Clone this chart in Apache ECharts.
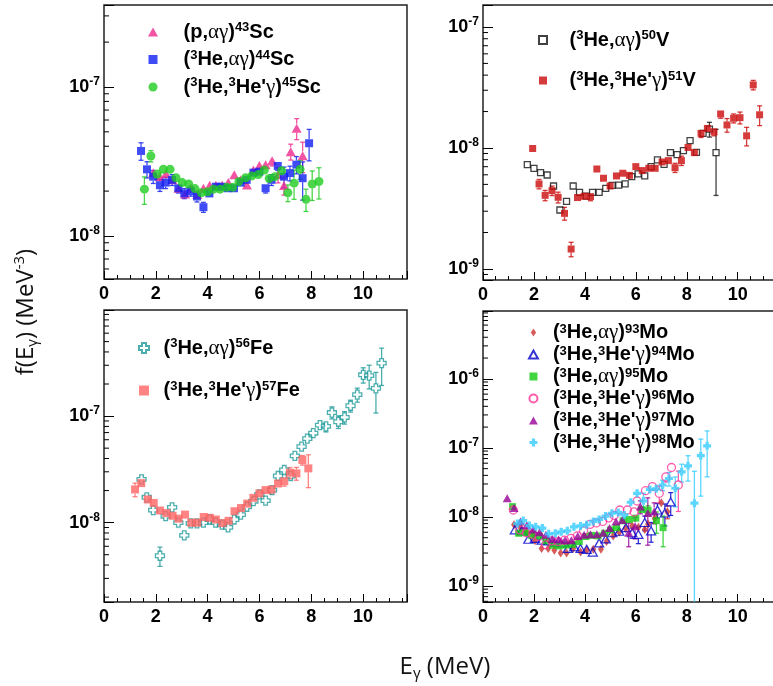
<!DOCTYPE html>
<html>
<head>
<meta charset="utf-8">
<script src="https://cdn.jsdelivr.net/npm/echarts@6.0.0/dist/echarts.min.js"></script>
<style>
html,body{margin:0;padding:0;background:#ffffff;}
#chart{width:773px;height:686px;}
</style>
</head>
<body>
<div id="chart"></div>
<script>
// ================= DATA =================
// Panel 1 : Sc
const sc43E = [1.90,2.16,2.39,2.64,2.88,3.13,3.37,3.60,3.84,4.08,4.32,4.56,4.80,5.03,5.28,5.52,5.77,6.00,6.24,6.49,6.72,6.95,7.21,7.44,7.67];
const sc43F = [2.66e-8,2.50e-8,2.61e-8,2.38e-8,2.09e-8,1.91e-8,2.09e-8,1.90e-8,2.09e-8,2.19e-8,2.19e-8,2.19e-8,2.28e-8,2.57e-8,2.38e-8,2.20e-8,2.77e-8,2.97e-8,3.00e-8,3.20e-8,2.57e-8,2.18e-8,3.68e-8,5.28e-8,3.46e-8];
const sc43Err = [1.5e-9,1.5e-9,1.5e-9,1.5e-9,1.2e-9,1.2e-9,1.2e-9,1.2e-9,1.2e-9,1.2e-9,1.2e-9,1.2e-9,1.2e-9,1.5e-9,1.5e-9,1.5e-9,1.8e-9,2.0e-9,2.0e-9,2.5e-9,3.0e-9,3.0e-9,4.5e-9,8.5e-9,8.0e-9];

const sc44E = [1.43,1.66,1.90,2.16,2.38,2.63,2.87,3.10,3.35,3.59,3.84,4.07,4.32,4.54,4.77,5.02,5.28,5.51,5.77,6.00,6.24,6.47,6.71,6.95,7.18,7.43,7.67,7.92];
const sc44F = [3.72e-8,2.80e-8,2.50e-8,2.19e-8,2.28e-8,2.38e-8,2.09e-8,1.93e-8,2.00e-8,1.84e-8,1.56e-8,1.93e-8,2.14e-8,2.14e-8,2.09e-8,2.09e-8,2.28e-8,2.38e-8,2.66e-8,2.70e-8,2.09e-8,2.38e-8,2.95e-8,2.50e-8,2.64e-8,3.01e-8,2.44e-8,4.19e-8];
const sc44Err = [5.0e-9,3.5e-9,2.5e-9,2.0e-9,2.0e-9,2.0e-9,1.5e-9,1.5e-9,1.5e-9,1.5e-9,1.2e-9,1.2e-9,1.2e-9,1.2e-9,1.2e-9,1.2e-9,1.2e-9,1.2e-9,1.5e-9,1.5e-9,1.5e-9,2.0e-9,2.0e-9,4.0e-9,3.0e-9,4.0e-9,7.0e-9,1.0e-8];

const sc45E = [1.56,1.81,2.05,2.29,2.55,2.78,3.02,3.27,3.51,3.76,4.00,4.23,4.48,4.74,4.97,5.21,5.47,5.71,5.96,6.19,6.38,6.60,6.86,7.10,7.34,7.57,7.80,8.04,8.30];
const sc45F = [2.06e-8,3.44e-8,2.60e-8,2.80e-8,2.80e-8,2.46e-8,2.28e-8,2.23e-8,2.08e-8,1.95e-8,1.98e-8,2.06e-8,2.06e-8,2.12e-8,2.12e-8,2.32e-8,2.46e-8,2.53e-8,2.58e-8,2.77e-8,2.43e-8,2.50e-8,2.74e-8,1.95e-8,2.26e-8,2.80e-8,1.76e-8,2.23e-8,2.32e-8];
const sc45Err = [4.3e-9,3.0e-9,2.0e-9,1.5e-9,1.5e-9,1.2e-9,1.2e-9,1.0e-9,1.0e-9,1.0e-9,1.0e-9,1.0e-9,1.0e-9,1.0e-9,1.0e-9,1.2e-9,1.2e-9,1.2e-9,1.2e-9,1.5e-9,1.5e-9,1.5e-9,2.0e-9,2.5e-9,5.0e-9,4.0e-9,3.0e-9,5.0e-9,5.5e-9];

// Panel 2 : V
const v50E = [1.74,2.00,2.26,2.52,2.77,3.02,3.28,3.54,3.79,4.05,4.30,4.56,4.82,5.07,5.33,5.58,5.84,6.09,6.35,6.60,6.85,7.11,7.36,7.62,7.87,8.13,8.38,8.64,8.89,9.15];
const v50F = [7.28e-9,6.79e-9,6.25e-9,5.98e-9,4.85e-9,3.07e-9,3.62e-9,4.85e-9,4.30e-9,4.00e-9,4.30e-9,4.30e-9,4.64e-9,4.91e-9,4.93e-9,5.04e-9,5.79e-9,6.10e-9,5.87e-9,7.00e-9,7.96e-9,7.33e-9,9.15e-9,8.81e-9,9.51e-9,1.15e-8,9.21e-9,1.32e-8,1.43e-8,9.15e-9];
const v50Err = [2.0e-10,2.0e-10,2.0e-10,2.0e-10,1.5e-10,1.0e-10,1.0e-10,1.5e-10,1.5e-10,1.5e-10,1.5e-10,1.5e-10,1.5e-10,1.5e-10,1.5e-10,1.5e-10,2.0e-10,2.0e-10,2.0e-10,2.0e-10,2.5e-10,2.5e-10,3.0e-10,3.0e-10,3.0e-10,4.0e-10,4.0e-10,6.0e-10,2.0e-9,5.1e-9];

const v51E = [1.95,2.20,2.44,2.71,2.95,3.20,3.46,3.71,3.97,4.22,4.47,4.73,4.99,5.24,5.49,5.75,6.00,6.25,6.51,6.76,7.03,7.28,7.54,7.79,8.05,8.30,8.56,8.81,9.07,9.33,9.58,9.84,10.09,10.35,10.61,10.86];
const v51F = [9.9e-9,5.04e-9,4.06e-9,4.44e-9,3.91e-9,2.88e-9,1.46e-9,3.89e-9,3.99e-9,3.96e-9,6.70e-9,5.62e-9,4.85e-9,5.87e-9,6.18e-9,5.94e-9,7.01e-9,6.50e-9,6.79e-9,6.79e-9,7.66e-9,7.86e-9,6.87e-9,7.86e-9,1.01e-8,9.15e-9,1.32e-8,1.45e-8,1.36e-8,1.91e-8,1.55e-8,1.76e-8,1.78e-8,1.26e-8,3.32e-8,1.88e-8];
const v51Err = [3.0e-10,4.5e-10,4.0e-10,4.0e-10,4.0e-10,3.5e-10,2.0e-10,2.5e-10,2.5e-10,3.0e-10,3.0e-10,3.0e-10,3.0e-10,3.0e-10,3.0e-10,3.0e-10,3.5e-10,3.5e-10,3.5e-10,3.5e-10,4.0e-10,4.0e-10,6.0e-10,7.0e-10,6.0e-10,6.0e-10,1.0e-9,1.0e-9,1.0e-9,1.5e-9,2.0e-9,1.5e-9,2.0e-9,2.2e-9,3.0e-9,3.5e-9];

// Panel 3 : Fe
const fe56E = [1.45,1.65,1.90,2.16,2.38,2.63,2.87,3.10,3.35,3.59,3.84,4.08,4.31,4.56,4.79,5.03,5.28,5.52,5.77,6.00,6.24,6.49,6.72,6.96,7.21,7.37,7.63,7.85,8.08,8.34,8.57,8.80,9.05,9.29,9.52,9.78,10.01,10.24,10.50,10.72];
const fe56F = [2.55e-8,1.73e-8,1.31e-8,4.89e-9,1.15e-8,1.39e-8,1.00e-8,7.60e-9,9.85e-9,9.85e-9,1.00e-8,1.07e-8,1.00e-8,9.57e-9,9.04e-9,1.07e-8,1.19e-8,1.41e-8,1.59e-8,1.84e-8,1.61e-8,2.02e-8,2.74e-8,3.12e-8,2.74e-8,4.23e-8,5.17e-8,6.15e-8,6.91e-8,8.23e-8,8.00e-8,1.08e-7,8.85e-8,9.71e-8,1.25e-7,1.59e-7,2.44e-7,2.40e-7,1.82e-7,3.14e-7];
const fe56Err = [1.5e-9,1.0e-9,8.0e-10,1.0e-9,7.0e-10,8.0e-10,6.0e-10,5.0e-10,5.0e-10,5.0e-10,5.0e-10,5.0e-10,5.0e-10,5.0e-10,5.0e-10,6.0e-10,6.0e-10,7.0e-10,8.0e-10,1.0e-9,1.0e-9,1.2e-9,1.8e-9,2.5e-9,2.0e-9,3.5e-9,4.5e-9,5.5e-9,6.5e-9,8.0e-9,9.0e-9,1.4e-8,1.2e-8,1.3e-8,1.6e-8,2.4e-8,4.0e-8,6.0e-8,7.5e-8,1.2e-7];

const fe57E = [1.20,1.44,1.69,1.92,2.16,2.41,2.65,2.88,3.13,3.37,3.60,3.85,4.09,4.32,4.57,4.81,5.04,5.29,5.53,5.77,6.00,6.24,6.47,6.72,6.96,7.18,7.43,7.66,7.89];
const fe57F = [2.05e-8,2.35e-8,1.65e-8,1.53e-8,1.30e-8,1.23e-8,1.16e-8,1.09e-8,1.19e-8,9.97e-9,1.00e-8,1.13e-8,1.11e-8,1.07e-8,9.90e-9,1.04e-8,1.28e-8,1.37e-8,1.51e-8,1.71e-8,1.88e-8,2.02e-8,2.05e-8,2.33e-8,2.45e-8,2.94e-8,2.90e-8,3.87e-8,3.23e-8];
const fe57Err = [3.0e-9,2.0e-9,1.0e-9,8.0e-10,7.0e-10,6.0e-10,6.0e-10,6.0e-10,6.0e-10,5.0e-10,5.0e-10,5.0e-10,5.0e-10,5.0e-10,5.0e-10,5.0e-10,6.0e-10,7.0e-10,8.0e-10,1.0e-9,1.2e-9,1.5e-9,2.0e-9,2.0e-9,2.5e-9,3.5e-9,4.0e-9,4.0e-9,1.1e-8];

// Panel 4 : Mo
const mo93E = [1.22,1.47,1.72,1.97,2.04,2.30,2.56,2.80,3.05,3.28,3.54,3.83,4.08,4.33,4.63,4.85,5.11,5.35,5.60,5.86,6.10,6.35,6.48,6.74,7.00,7.24];
const mo93F = [7.7e-9,7.0e-9,6.0e-9,5.6e-9,4.5e-9,3.5e-9,3.5e-9,3.3e-9,3.0e-9,3.0e-9,3.5e-9,3.1e-9,3.3e-9,3.4e-9,3.4e-9,4.4e-9,5.3e-9,6.0e-9,6.8e-9,7.4e-9,7.1e-9,6.6e-9,7.9e-9,9.5e-9,1.6e-8,1.19e-8];
const mo93Err = [6.0e-10,5.0e-10,4.0e-10,4.0e-10,3.5e-10,3.0e-10,3.0e-10,3.0e-10,2.5e-10,2.5e-10,3.0e-10,3.0e-10,3.0e-10,3.0e-10,3.0e-10,4.0e-10,5.0e-10,6.0e-10,7.0e-10,8.0e-10,9.0e-10,1.0e-9,1.2e-9,1.5e-9,2.0e-9,2.5e-9];

const mo94E = [1.25,1.52,1.78,2.04,2.30,2.56,2.82,3.07,3.33,3.58,3.83,4.07,4.31,4.56,4.82,5.08,5.35,5.61,5.86,6.10,6.35,6.60,6.85,7.14,7.37];
const mo94F = [6.5e-9,6.3e-9,4.75e-9,4.9e-9,4.6e-9,4.5e-9,4.3e-9,4.2e-9,3.5e-9,3.7e-9,3.5e-9,3.4e-9,3.1e-9,4.2e-9,4.8e-9,5.9e-9,6.2e-9,7.0e-9,5.9e-9,5.6e-9,8.3e-9,6.3e-9,1.26e-8,1.14e-8,1.65e-8];
const mo94Err = [5.0e-10,5.0e-10,4.0e-10,4.0e-10,4.0e-10,3.5e-10,3.5e-10,3.5e-10,3.0e-10,3.0e-10,3.0e-10,3.0e-10,3.0e-10,4.0e-10,5.0e-10,6.0e-10,7.0e-10,9.0e-10,1.0e-9,1.5e-9,2.0e-9,2.0e-9,3.0e-9,4.0e-9,6.0e-9];

const mo95E = [1.16,1.40,1.65,1.91,2.21,2.47,2.73,2.99,3.26,3.52,3.78,4.04,4.26,4.52,4.78,5.01,5.24,5.50,5.74,6.00,6.22,6.48,6.81,7.07];
const mo95F = [1.41e-8,5.8e-9,5.9e-9,5.4e-9,5.3e-9,4.5e-9,3.9e-9,3.8e-9,3.9e-9,4.0e-9,4.4e-9,5.2e-9,5.4e-9,5.3e-9,5.8e-9,6.5e-9,7.0e-9,8.8e-9,9.2e-9,9.6e-9,1.28e-8,1.25e-8,8.8e-9,7.0e-9];
const mo95Err = [1.0e-9,5.0e-10,5.0e-10,4.0e-10,4.0e-10,3.5e-10,3.0e-10,3.0e-10,3.0e-10,3.0e-10,3.5e-10,4.0e-10,4.0e-10,4.0e-10,5.0e-10,6.0e-10,7.0e-10,8.0e-10,9.0e-10,1.0e-9,1.5e-9,2.0e-9,3.0e-9,3.3e-9];

const mo96E = [1.19,1.45,1.70,1.95,2.20,2.46,2.70,2.95,3.20,3.45,3.70,3.95,4.20,4.45,4.70,4.94,5.15,5.37,5.67,5.93,6.05,6.38,6.65,6.92,7.18,7.40,7.67];
const mo96F = [1.26e-8,6.5e-9,5.9e-9,5.6e-9,5.2e-9,3.95e-9,4.5e-9,4.4e-9,4.6e-9,4.9e-9,5.3e-9,6.3e-9,7.8e-9,8.2e-9,8.6e-9,9.7e-9,1.05e-8,1.26e-8,1.26e-8,1.18e-8,1.7e-8,2.4e-8,2.75e-8,2.2e-8,3.8e-8,5.2e-8,2.9e-8];
const mo96Err = [1.0e-9,5.0e-10,5.0e-10,4.0e-10,4.0e-10,3.0e-10,3.5e-10,3.5e-10,3.5e-10,4.0e-10,4.0e-10,5.0e-10,6.0e-10,6.0e-10,7.0e-10,8.0e-10,9.0e-10,1.0e-9,1.2e-9,1.2e-9,1.8e-9,2.5e-9,3.0e-9,6.0e-9,6.0e-9,7.0e-9,1.7e-8];

const mo97E = [0.95,1.22,1.47,1.72,1.97,2.22,2.47,2.72,2.97,3.22,3.47,3.72,3.97,4.22,4.47,4.72,4.97,5.22,5.47,5.72,5.97,6.18,6.47,6.72];
const mo97F = [1.87e-8,1.35e-8,8.6e-9,7.6e-9,6.6e-9,6.0e-9,5.5e-9,4.8e-9,4.7e-9,4.6e-9,4.6e-9,5.3e-9,5.5e-9,5.6e-9,5.6e-9,5.9e-9,6.9e-9,8.6e-9,9.0e-9,5.9e-9,7.3e-9,1.41e-8,1.14e-8,1.2e-8];
const mo97Err = [1.2e-9,1.0e-9,6.0e-10,5.0e-10,5.0e-10,4.0e-10,4.0e-10,3.5e-10,3.5e-10,3.5e-10,3.5e-10,4.0e-10,4.0e-10,4.0e-10,4.0e-10,5.0e-10,6.0e-10,8.0e-10,9.0e-10,2.2e-9,2.5e-9,3.0e-9,7.5e-9,4.0e-9];

const mo98E = [1.35,1.58,1.82,2.07,2.33,2.58,2.84,3.07,3.31,3.57,3.83,4.07,4.33,4.56,4.81,5.06,5.31,5.55,5.80,6.05,6.30,6.55,6.80,7.05,7.30,7.55,7.80,8.05,8.30,8.55,8.80];
const mo98F = [8.0e-9,8.85e-9,7.5e-9,7.2e-9,6.9e-9,5.7e-9,5.8e-9,6.1e-9,6.3e-9,7.2e-9,7.4e-9,7.7e-9,8.6e-9,9.2e-9,1.03e-8,1.13e-8,1.16e-8,1.07e-8,1.63e-8,2.2e-8,1.71e-8,2.5e-8,2.55e-8,2.9e-8,3.6e-8,2.6e-8,4.5e-8,5.5e-8,1.58e-8,7.7e-8,1.07e-7];
const mo98Err = [6.0e-10,6.0e-10,5.0e-10,5.0e-10,5.0e-10,4.0e-10,4.0e-10,4.0e-10,4.0e-10,5.0e-10,5.0e-10,5.0e-10,6.0e-10,6.0e-10,7.0e-10,8.0e-10,8.0e-10,8.0e-10,1.2e-9,2.0e-9,5.0e-9,3.0e-9,3.0e-9,5.0e-9,8.0e-9,1.2e-8,1.3e-8,2.2e-8,3.0e-8,5.7e-8,6.9e-8];

// Axis ranges and tick values
const xRange = [0, 11.7];
const xMajorStep = 2;
const xMinorStep = 0.5;
const yRanges = [[5.14e-9, 3.55e-7], [8.1e-10, 1.52e-7], [1.8e-9, 9.9e-7], [5.86e-10, 9.6e-6]];
const yMinorTicks = [
  [6e-9,7e-9,8e-9,9e-9,2e-8,3e-8,4e-8,5e-8,6e-8,7e-8,8e-8,9e-8,2e-7,3e-7],
  [9e-10,2e-9,3e-9,4e-9,5e-9,6e-9,7e-9,8e-9,9e-9,2e-8,3e-8,4e-8,5e-8,6e-8,7e-8,8e-8,9e-8],
  [2e-9,3e-9,4e-9,5e-9,6e-9,7e-9,8e-9,9e-9,2e-8,3e-8,4e-8,5e-8,6e-8,7e-8,8e-8,9e-8,2e-7,3e-7,4e-7,5e-7,6e-7,7e-7,8e-7,9e-7],
  [6e-10,7e-10,8e-10,9e-10,2e-9,3e-9,4e-9,5e-9,6e-9,7e-9,8e-9,9e-9,2e-8,3e-8,4e-8,5e-8,6e-8,7e-8,8e-8,9e-8,2e-7,3e-7,4e-7,5e-7,6e-7,7e-7,8e-7,9e-7,2e-6,3e-6,4e-6,5e-6,6e-6,7e-6,8e-6,9e-6]
];

// ================= CHART =================
const FONT = '"Liberation Sans", Arial, Helvetica, sans-serif';
const SERIF = '"Liberation Serif", "DejaVu Serif", serif';
const TITLEFONT = '"Open Sans", "Noto Sans", sans-serif';

const SYM = {
  square: 'path://M0,0L10,0L10,10L0,10Z',
  triangle: 'path://M5,0L10,9L0,9Z',
  diamond: 'path://M4,0L8,6L4,12L0,6Z',
  cross: 'path://M3,0L7,0L7,3L10,3L10,7L7,7L7,10L3,10L3,7L0,7L0,3L3,3Z',
  circle: 'circle'
};

const sets = [
  {panel:0, name:'(p,αγ)43Sc', label:'{b|(p,}{g|αγ}{b|)}{s|43}{b|Sc}', E:sc43E, F:sc43F, Err:sc43Err, symbol:SYM.triangle, size:[10,9], color:'#f0288c'},
  {panel:0, name:'(3He,αγ)44Sc', label:'{b|(}{s|3}{b|He,}{g|αγ}{b|)}{s|44}{b|Sc}', E:sc44E, F:sc44F, Err:sc44Err, symbol:SYM.square, size:[8,8], color:'#0f1ef2'},
  {panel:0, name:"(3He,3He'γ)45Sc", label:"{b|(}{s|3}{b|He,}{s|3}{b|He'}{g|γ}{b|)}{s|45}{b|Sc}", E:sc45E, F:sc45F, Err:sc45Err, symbol:SYM.circle, size:[9,9], color:'#1ecc1e'},
  {panel:1, name:'(3He,αγ)50V', label:'{b|(}{s|3}{b|He,}{g|αγ}{b|)}{s|50}{b|V}', E:v50E, F:v50F, Err:v50Err, symbol:SYM.square, size:[6,6], color:'#111111', hollow:true},
  {panel:1, name:"(3He,3He'γ)51V", label:"{b|(}{s|3}{b|He,}{s|3}{b|He'}{g|γ}{b|)}{s|51}{b|V}", E:v51E, F:v51F, Err:v51Err, symbol:SYM.square, size:[7,7], color:'#cc0a0a'},
  {panel:2, name:'(3He,αγ)56Fe', label:'{b|(}{s|3}{b|He,}{g|αγ}{b|)}{s|56}{b|Fe}', E:fe56E, F:fe56F, Err:fe56Err, symbol:SYM.cross, size:[9,9], color:'#1f9a9a', hollow:true},
  {panel:2, name:"(3He,3He'γ)57Fe", label:"{b|(}{s|3}{b|He,}{s|3}{b|He'}{g|γ}{b|)}{s|57}{b|Fe}", E:fe57E, F:fe57F, Err:fe57Err, symbol:SYM.square, size:[8,8], color:'#ff6464'},
  {panel:3, name:'(3He,αγ)93Mo', label:'{b|(}{s|3}{b|He,}{g|αγ}{b|)}{s|93}{b|Mo}', E:mo93E, F:mo93F, Err:mo93Err, symbol:SYM.diamond, size:[6,9], color:'#cc3333'},
  {panel:3, name:"(3He,3He'γ)94Mo", label:"{b|(}{s|3}{b|He,}{s|3}{b|He'}{g|γ}{b|)}{s|94}{b|Mo}", E:mo94E, F:mo94F, Err:mo94Err, symbol:SYM.triangle, size:[9,8], color:'#0000cc', hollow:true},
  {panel:3, name:'(3He,αγ)95Mo', label:'{b|(}{s|3}{b|He,}{g|αγ}{b|)}{s|95}{b|Mo}', E:mo95E, F:mo95F, Err:mo95Err, symbol:SYM.square, size:[7,7], color:'#11cc11'},
  {panel:3, name:"(3He,3He'γ)96Mo", label:"{b|(}{s|3}{b|He,}{s|3}{b|He'}{g|γ}{b|)}{s|96}{b|Mo}", E:mo96E, F:mo96F, Err:mo96Err, symbol:SYM.circle, size:[8,8], color:'#ff3399', hollow:true},
  {panel:3, name:"(3He,3He'γ)97Mo", label:"{b|(}{s|3}{b|He,}{s|3}{b|He'}{g|γ}{b|)}{s|97}{b|Mo}", E:mo97E, F:mo97F, Err:mo97Err, symbol:SYM.triangle, size:[9,8], color:'#990099'},
  {panel:3, name:"(3He,3He'γ)98Mo", label:"{b|(}{s|3}{b|He,}{s|3}{b|He'}{g|γ}{b|)}{s|98}{b|Mo}", E:mo98E, F:mo98F, Err:mo98Err, symbol:SYM.cross, size:[8,8], color:'#33ccff'}
];

const labelMap = {};
sets.forEach(s => { labelMap[s.name] = s.label; });

const grids = [
  {left:104, top:5, width:303, height:274},
  {left:483, top:5, width:298, height:275},
  {left:104, top:310, width:303, height:292},
  {left:483, top:311, width:298, height:291}
].map(g => Object.assign({show:true, borderColor:'#222222', borderWidth:1.5, backgroundColor:'transparent', containLabel:false, outerBoundsMode:'none'}, g));

const xAxes = [];
const yAxes = [];
for (let i = 0; i < 4; i++) {
  xAxes.push({
    type:'value', gridIndex:i, min:xRange[0], max:xRange[1], interval:xMajorStep, position:'bottom',
    axisLine:{show:false}, splitLine:{show:false},
    axisTick:{show:true, inside:true, length:8, lineStyle:{color:'#000', width:1}},
    axisLabel:{show:true, margin:6, color:'#000', fontFamily:FONT, fontWeight:'bold', fontSize:18,
      formatter: v => (Math.abs(v / xMajorStep - Math.round(v / xMajorStep)) < 1e-6 ? String(Math.round(v)) : '')}
  });
}
for (let i = 0; i < 4; i++) {
  xAxes.push({
    type:'value', gridIndex:i, min:xRange[0], max:xRange[1], interval:xMinorStep, position:'bottom', offset:0,
    axisLine:{show:false}, splitLine:{show:false}, axisLabel:{show:false},
    axisTick:{show:true, inside:true, length:4, lineStyle:{color:'#000', width:1}}
  });
}
for (let i = 0; i < 4; i++) {
  yAxes.push({
    type:'log', logBase:10, gridIndex:i, min:yRanges[i][0], max:yRanges[i][1],
    axisLine:{show:false}, splitLine:{show:false}, minorTick:{show:false},
    axisTick:{show:true, inside:true, length:10, lineStyle:{color:'#000', width:1}},
    axisLabel:{show:true, margin:4,
      formatter: v => { const e = Math.log10(v); const r = Math.round(e); return Math.abs(e - r) < 1e-6 ? '{b|10}{s|' + r + '}' : ''; },
      rich:{
        b:{fontFamily:FONT, fontWeight:'bold', fontSize:18, lineHeight:22, color:'#000'},
        s:{fontFamily:FONT, fontWeight:'bold', fontSize:12, lineHeight:13, verticalAlign:'top', color:'#000'}
      }}
  });
}

function makeErr(pi, half, color) {
  return function (params, api) {
    const x = api.value(0), y = api.value(1), e = api.value(2);
    const yr = yRanges[pi];
    const lo = Math.max(y - e, yr[0]);
    const hi = Math.min(y + e, yr[1]);
    const c = api.coord([x, y]);
    const pl = api.coord([x, lo]);
    const ph = api.coord([x, hi]);
    const st = {stroke: color, lineWidth: 1.3, opacity: 0.8};
    const ch = [];
    if (ph[1] < c[1] - half - 0.5) {
      ch.push({type:'line', shape:{x1:c[0], y1:ph[1], x2:c[0], y2:c[1] - half}, style:st});
      if (y + e <= yr[1]) ch.push({type:'line', shape:{x1:c[0] - 2.5, y1:ph[1], x2:c[0] + 2.5, y2:ph[1]}, style:st});
    }
    if (pl[1] > c[1] + half + 0.5) {
      ch.push({type:'line', shape:{x1:c[0], y1:c[1] + half, x2:c[0], y2:pl[1]}, style:st});
      if (y - e > yr[0]) ch.push({type:'line', shape:{x1:c[0] - 2.5, y1:pl[1], x2:c[0] + 2.5, y2:pl[1]}, style:st});
    }
    return {type:'group', children: ch};
  };
}

const series = [];
sets.forEach(s => {
  series.push({
    type:'custom', name: s.name + ' err', xAxisIndex:s.panel, yAxisIndex:s.panel, silent:true, z:2,
    data: s.E.map((x, i) => [x, s.F[i], s.Err[i]]),
    renderItem: makeErr(s.panel, s.size[1] / 2, s.color)
  });
  series.push({
    type:'scatter', name:s.name, xAxisIndex:s.panel, yAxisIndex:s.panel, z:3,
    symbol:s.symbol, symbolSize:s.size,
    data: s.E.map((x, i) => [x, s.F[i]]),
    itemStyle: s.hollow ? {color:'rgba(255,255,255,0)', borderColor:s.color, borderWidth:1.3}
                        : {color:s.color, borderWidth:0},
    emphasis:{disabled:true}
  });
});
yMinorTicks.forEach((vals, i) => {
  series.push({
    type:'custom', xAxisIndex:i, yAxisIndex:i, silent:true, z:6,
    data: vals.map(v => [xRange[0], v]),
    renderItem: (params, api) => {
      const c = api.coord([api.value(0), api.value(1)]);
      return {type:'line', shape:{x1:c[0], y1:c[1], x2:c[0] + 5, y2:c[1]}, style:{stroke:'#000', lineWidth:1}};
    }
  });
});

function legendRich(fs, lh) {
  return {
    b:{fontFamily:FONT, fontWeight:'bold', fontSize:fs, lineHeight:lh, color:'#000'},
    g:{fontFamily:SERIF, fontWeight:'normal', fontSize:fs + 1, lineHeight:lh, color:'#000'},
    s:{fontFamily:FONT, fontWeight:'bold', fontSize:13, lineHeight:14, verticalAlign:'top', color:'#000'}
  };
}
function makeLegend(panel, left, top, iw, ih, gap, fs, lh) {
  return {
    show:true, orient:'vertical', left:left, top:top, padding:0, itemWidth:iw, itemHeight:ih, itemGap:gap,
    selectedMode:false, symbolKeepAspect:true,
    data: sets.filter(s => s.panel === panel).map(s => s.name),
    formatter: name => labelMap[name],
    textStyle:{rich: legendRich(fs, lh)}
  };
}

const option = {
  animation:false,
  backgroundColor:'#ffffff',
  grid: grids,
  xAxis: xAxes,
  yAxis: yAxes,
  legend: [
    makeLegend(0, 148, 21, 51, 9, 6, 20, 22),
    makeLegend(1, 538, 29, 43, 8, 19, 20, 22),
    makeLegend(2, 138, 337, 29, 10, 21, 20, 22),
    makeLegend(3, 528, 322, 29, 8, 1, 20, 20)
  ],
  graphic: [
    {type:'text', x:445, y:667, silent:true,
     style:{text:'{n|E}{sub|γ}{n| (MeV)}', align:'center', verticalAlign:'middle', textAlign:'center', textVerticalAlign:'middle',
       rich:{n:{fontFamily:TITLEFONT, fontSize:24, lineHeight:28, fill:'#111'}, sub:{fontFamily:TITLEFONT, fontSize:15, lineHeight:15, verticalAlign:'bottom', fill:'#111'}}}},
    {type:'text', x:26, y:312, rotation:Math.PI / 2, silent:true,
     style:{text:'{n|f(E}{sub|γ}{n|) (MeV}{sup|-3}{n|)}', align:'center', verticalAlign:'middle', textAlign:'center', textVerticalAlign:'middle',
       rich:{n:{fontFamily:TITLEFONT, fontSize:24, lineHeight:28, fill:'#111'}, sub:{fontFamily:TITLEFONT, fontSize:15, lineHeight:15, verticalAlign:'bottom', fill:'#111'}, sup:{fontFamily:TITLEFONT, fontSize:15, lineHeight:15, verticalAlign:'top', fill:'#111'}}}}
  ],
  series: series
};

const chart = echarts.init(document.getElementById('chart'), null, {renderer:'canvas'});
chart.setOption(option);
</script>
</body>
</html>
